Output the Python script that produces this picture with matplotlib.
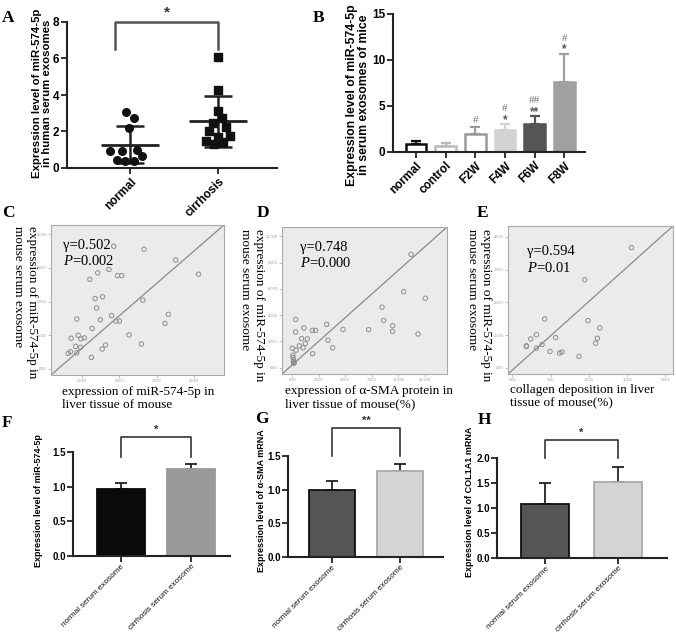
import numpy as np
import matplotlib.pyplot as plt

plt.rcParams['font.family'] = ['Liberation Sans', 'DejaVu Sans']
plt.rcParams['mathtext.fontset'] = 'custom'
plt.rcParams['mathtext.rm'] = 'Liberation Serif'
plt.rcParams['mathtext.it'] = 'Liberation Serif:italic'

W, H = 676, 637

# ---- A: human serum exosomes ----
a_groups = ['normal', 'cirrhosis']
a_normal = [3.05, 2.75, 2.2, 0.95, 0.95, 1.0, 0.65, 0.45, 0.4, 0.4]
a_normal_jit = [-0.05, 0.04, -0.01, -0.23, -0.09, 0.08, 0.13, -0.15, -0.06, 0.04]
a_cirr = [6.1, 4.3, 3.1, 2.75, 2.45, 2.25, 2.05, 1.75, 1.7, 1.5, 1.45, 1.3]
a_cirr_jit = [0, 0, 0, 0.04, -0.06, 0.09, -0.10, 0.13, 0, -0.14, 0.05, -0.05]

# ---- B: mice serum exosomes ----
b_groups = ['normal', 'control', 'F2W', 'F4W', 'F6W', 'F8W']
b_means = [0.85, 0.7, 1.95, 2.35, 3.0, 7.6]
b_err = [0.3, 0.3, 0.75, 0.7, 0.9, 3.1]
b_star = ['', '', '', '*', '**', '*']
b_hash = ['', '', '#', '#', '##', '#']

# ---- C, D, E: correlations ----
c_x = [1.85, 2.66, 3.51, 4.12, 1.72, 1.42, 1.21, 1.95, 2.06, 1.35, 1.55, 1.39,
       2.63, 0.86, 1.49, 1.79, 1.91, 2.0, 3.31, 3.22, 1.27, 0.90, 0.71, 0.97,
       1.06, 2.26, 0.83, 0.96, 1.63, 1.54, 2.59, 0.69, 0.63, 0.86, 1.25]
c_y = [3.64, 3.55, 3.23, 2.81, 2.95, 2.85, 2.66, 2.77, 2.77, 2.09, 2.14, 1.81,
       2.04, 1.48, 1.46, 1.58, 1.42, 1.42, 1.62, 1.35, 1.20, 1.0, 0.91, 0.89,
       0.92, 1.01, 0.67, 0.64, 0.71, 0.59, 0.74, 0.51, 0.46, 0.48, 0.34]
d_x = [11.21, 10.52, 12.56, 8.48, 8.64, 9.48, 9.48, 11.87, 7.22, 4.81, 3.27,
       1.92, 2.23, 3.39, 3.83, 1.95, 1.13, 0.35, 0.35, 1.44, 0.91, 1.26, 1.04,
       0.69, 0.38, 0.03, 0.09, 0.09, 0.16, 0.13, 0.22, 0.16]
d_y = [8.62, 5.78, 5.28, 4.60, 3.59, 3.19, 2.76, 2.56, 2.89, 2.91, 3.29,
       2.84, 2.84, 2.09, 1.51, 1.06, 3.02, 3.67, 2.71, 2.19, 2.21, 1.83, 1.51,
       1.66, 1.33, 1.48, 0.95, 0.78, 0.58, 0.45, 0.38, 0.33]
e_x = [1.556, 0.946, 0.423, 0.989, 1.142, 0.566, 1.111, 1.089, 0.314, 0.240,
       0.183, 0.183, 0.314, 0.388, 0.492, 0.619, 0.649, 0.871]
e_y = [3.67, 2.69, 1.49, 1.44, 1.22, 0.92, 0.90, 0.75, 1.01, 0.88,
       0.67, 0.65, 0.60, 0.71, 0.50, 0.45, 0.48, 0.35]

# ---- F, G, H: bar comparisons ----
bottom_groups = ['normal serum exosome', 'cirrhosis serum exosome']
f_means, f_err = [0.96, 1.26], [0.10, 0.06]
g_means, g_err = [1.00, 1.28], [0.13, 0.10]
h_means, h_err = [1.08, 1.52], [0.42, 0.31]

fig = plt.figure(figsize=(W / 100, H / 100), dpi=100)


def add_ax(l, t, r, b):
    return fig.add_axes([l / W, 1 - b / H, (r - l) / W, (b - t) / H])


def ftext(x, y, s, **kw):
    fig.text(x / W, 1 - y / H, s, **kw)


def prism_axes(ax, size=8.5, weight='bold'):
    for s in ['top', 'right']:
        ax.spines[s].set_visible(False)
    for s in ['left', 'bottom']:
        ax.spines[s].set_linewidth(1.5)
        ax.spines[s].set_color('#222')
    ax.tick_params(width=1.3, length=4, color='#222', labelsize=size, pad=1.5)
    for t in ax.get_yticklabels():
        t.set_fontweight(weight)


serif = 'Liberation Serif'

# ---------- A ----------
axA = add_ax(67, 22, 277, 168)
axA.set_xlim(-0.72, 1.67)
axA.set_ylim(0, 8)
axA.scatter(np.array(a_normal_jit) + 0, a_normal, marker='o', s=30, c='#111', zorder=3)
axA.scatter(np.array(a_cirr_jit) + 1, a_cirr, marker='s', s=26, c='#111', zorder=3)
for i, vals in enumerate([a_normal, a_cirr]):
    m, sd = np.mean(vals), np.std(vals, ddof=1)
    axA.hlines(m, i - 0.33, i + 0.33, color='#222', lw=2)
    axA.vlines(i, m - sd, m + sd, color='#222', lw=1.8)
    axA.hlines([m - sd, m + sd], i - 0.16, i + 0.16, color='#222', lw=1.8)
axA.plot([-0.17, -0.17, 1.0, 1.0], [6.5, 8, 8, 6.5], color='#555', lw=1.8, clip_on=False)
axA.text(0.42, 8.5, '*', ha='center', va='center', fontsize=11, fontweight='bold', color='#333')
axA.set_yticks([0, 2, 4, 6, 8])
axA.set_xticks([0, 1])
axA.set_xticklabels(a_groups, rotation=45, ha='right', rotation_mode='anchor',
                    fontweight='bold')
prism_axes(axA)
ftext(42, 93, 'Expression level of miR-574-5p\nin human serum exosomes', rotation=90,
      ha='center', va='center', fontsize=8.2, fontweight='bold', linespacing=1.1)

# ---------- B ----------
axB = add_ax(393, 14, 585, 152)
axB.set_xlim(-0.78, 5.7)
axB.set_ylim(0, 15)
xb = np.arange(len(b_groups))
b_fill = ['white', 'white', 'white', '#d2d2d2', '#555555', '#a0a0a0']
b_edge = ['#111111', '#bbbbbb', '#999999', '#d2d2d2', '#555555', '#a0a0a0']
for i in range(len(b_groups)):
    axB.errorbar(xb[i], b_means[i], yerr=[[0], [b_err[i]]], fmt='none',
                 ecolor=b_edge[i], elinewidth=1.6, capsize=3.5, capthick=1.6, zorder=1)
    axB.bar(xb[i], b_means[i], width=0.7, color=b_fill[i], edgecolor=b_edge[i],
            lw=1.8, zorder=2)
    top = b_means[i] + b_err[i]
    if b_star[i]:
        axB.text(xb[i], top + 0.45, b_star[i], ha='center', va='center',
                 fontsize=8.5, color='#555', fontweight='bold')
        axB.text(xb[i], top + 1.65, b_hash[i], ha='center', va='center',
                 fontsize=8, color='#777', family=serif)
    elif b_hash[i]:
        axB.text(xb[i], top + 0.75, b_hash[i], ha='center', va='center',
                 fontsize=8, color='#777', family=serif)
axB.set_yticks([0, 5, 10, 15])
axB.set_xticks(xb)
axB.set_xticklabels(b_groups, rotation=45, ha='right', rotation_mode='anchor',
                    fontweight='bold')
prism_axes(axB)
ftext(358, 95, 'Expression level of miR-574-5p\nin serum exosomes of mice', rotation=90,
      ha='center', va='center', fontsize=8.8, fontweight='bold', linespacing=1.1)


# ---------- C, D, E ----------
def scatter_panel(rect, xs, ys, xlim, ylim, xt, xtl, yt, ytl, r, p, rxy,
                  ylab, ylxy, xlab, xlxy):
    ax = add_ax(*rect)
    ax.set_facecolor('#ebebeb')
    ax.scatter(xs, ys, s=10, facecolors='none', edgecolors='#8c8c8c', lw=0.7, zorder=3)
    ax.plot([0, 1], [0, 1], transform=ax.transAxes, color='#8a8a8a', lw=0.9)
    ax.set_xlim(xlim)
    ax.set_ylim(ylim)
    ax.set_xticks(xt)
    ax.set_xticklabels(xtl)
    ax.set_yticks(yt)
    ax.set_yticklabels(ytl)
    ax.tick_params(length=2, width=0.5, color='#aaa', labelsize=2.8,
                   labelcolor='#999', pad=1.2)
    for s in ax.spines.values():
        s.set_color('#aaa')
        s.set_linewidth(0.8)
    ftext(rxy[0], rxy[1], 'γ=' + r, family=serif, fontsize=10.5, va='center')
    ftext(rxy[0], rxy[1] + 16, r'$\mathit{P}$=' + p, family=serif, fontsize=10.5,
          va='center')
    ftext(ylxy[0], ylxy[1], ylab, family=serif, fontsize=9.5, rotation=270,
          ha='center', va='top', multialignment='left')
    ftext(xlxy[0], xlxy[1], xlab, family=serif, fontsize=9.5, ha='left', va='top',
          linespacing=1.15)
    return ax


ylab_sc = 'expression of miR-574-5p in\nmouse serum exosome'
scatter_panel((51, 225, 224, 375), c_x, c_y, (0.17, 4.8), (-0.18, 4.27),
              [1, 2, 3, 4], ['1.000', '2.000', '3.000', '4.000'],
              [0, 1, 2, 3, 4], ['.000', '1.000', '2.000', '3.000', '4.000'],
              '0.502', '0.002', (63, 245), ylab_sc, (25, 226),
              'expression of miR-574-5p in\nliver tissue of mouse', (62, 386))
scatter_panel((282, 227, 447, 374), d_x, d_y, (-0.94, 14.6), (-0.48, 10.7),
              [0, 2.5, 5, 7.5, 10, 12.5],
              ['.000', '2.500', '5.000', '7.500', '10.000', '12.500'],
              [0, 2, 4, 6, 8, 10],
              ['.000', '2.000', '4.000', '6.000', '8.000', '10.000'],
              '0.748', '0.000', (300, 247), ylab_sc, (252, 229),
              'expression of α-SMA protein in\nliver tissue of mouse(%)', (285, 385))
scatter_panel((508, 226, 673, 374), e_x, e_y, (-0.057, 2.10), (-0.19, 4.33),
              [0, 0.5, 1, 1.5, 2], ['.000', '.500', '1.000', '1.500', '2.000'],
              [0, 1, 2, 3, 4], ['.000', '1.000', '2.000', '3.000', '4.000'],
              '0.594', '0.01', (527, 252), ylab_sc, (479, 229),
              'collagen deposition in liver\ntissue of mouse(%)', (510, 384))


# ---------- F, G, H ----------
def bar_panel(rect, xlim, ylim, yt, means, errs, fills, edges, width,
              bracket, sig, ylab, ylxy):
    ax = add_ax(*rect)
    x = np.arange(len(means))
    for i in range(len(means)):
        ax.errorbar(x[i], means[i], yerr=[[0], [errs[i]]], fmt='none', ecolor='#222',
                    elinewidth=1.3, capsize=4.5, capthick=1.3, zorder=1)
        ax.bar(x[i], means[i], width=width, color=fills[i], edgecolor=edges[i],
               lw=1.3, zorder=2)
    ax.set_xlim(xlim)
    ax.set_ylim(ylim)
    ax.set_yticks(yt)
    ax.set_yticklabels(['%.1f' % v for v in yt])
    ax.set_xticks(x)
    ax.set_xticklabels(bottom_groups, rotation=45, ha='right', rotation_mode='anchor')
    prism_axes(ax, size=7)
    ax.tick_params(axis='x', pad=1)
    ax.tick_params(axis='y', pad=1)
    for t in ax.get_xticklabels():
        t.set_fontsize(5.9)
        t.set_color('#111')
    y0, y1 = bracket
    ax.plot([0, 0, 1, 1], [y0, y1, y1, y0], color='#333', lw=1.2, clip_on=False)
    ax.text(0.5, y1 + (ylim[1] - ylim[0]) * 0.07, sig, ha='center', va='center',
            fontsize=8, fontweight='bold', color='#333')
    ftext(ylxy[0], ylxy[1], ylab, rotation=90, ha='center', va='bottom',
          fontsize=6.5, fontweight='bold')
    return ax


bar_panel((73, 452, 230, 556), (-0.686, 1.557), (0, 1.5), [0, 0.5, 1.0, 1.5],
          f_means, f_err, ['#0a0a0a', '#9a9a9a'], ['#0a0a0a', '#9a9a9a'], 0.69,
          (1.43, 1.72), '*', 'Expression level of miR-574-5p', (39, 567))
bar_panel((288, 456, 443, 557), (-0.647, 1.63), (0, 1.5), [0, 0.5, 1.0, 1.5],
          g_means, g_err, ['#555555', '#d4d4d4'], ['#111111', '#aaaaaa'], 0.68,
          (1.5, 1.92), '**', 'Expression level of α-SMA mRNA', (261, 572))
bar_panel((497, 458, 667, 558), (-0.66, 1.67), (0, 2.0), [0, 0.5, 1.0, 1.5, 2.0],
          h_means, h_err, ['#555555', '#d4d4d4'], ['#111111', '#aaaaaa'], 0.66,
          (2.0, 2.36), '*', 'Expression level of COL1A1 mRNA', (469, 577))

# panel letters
for letter, (x, y) in zip('ABCDEFGH', [(2, 18), (313, 18), (2, 213), (257, 213),
                                       (477, 213), (2, 423), (255, 419), (478, 420)]):
    ftext(x, y, letter, family=serif, fontsize=12.5, fontweight='bold', va='center')

fig.savefig('out.png', dpi=100)
